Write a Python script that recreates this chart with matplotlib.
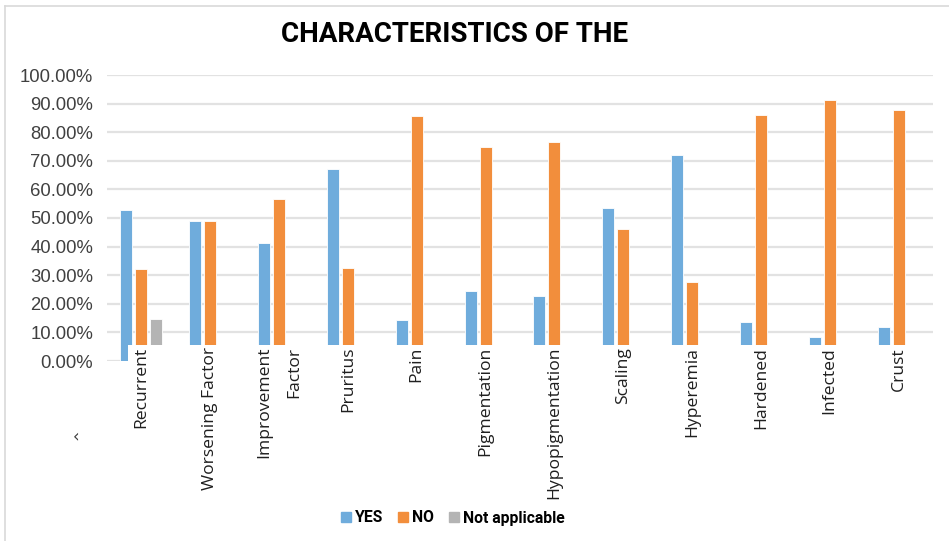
import matplotlib.pyplot as plt
import matplotlib.transforms as mtransforms
from matplotlib.patches import Rectangle
from matplotlib.lines import Line2D

categories = ["Recurrent", "Worsening Factor", "Improvement\nFactor", "Pruritus", "Pain",
              "Pigmentation", "Hypopigmentation", "Scaling", "Hyperemia", "Hardened",
              "Infected", "Crust"]
yes_vals = [52.7, 48.8, 41.3, 67.2, 14.2, 24.4, 22.6, 53.4, 72.1, 13.7, 8.4, 12.0]
no_vals = [32.1, 49.1, 56.8, 32.6, 85.7, 74.8, 76.7, 46.2, 27.6, 86.0, 91.3, 87.7]
na_vals = [14.7, 0, 0, 0, 0, 0, 0, 0, 0, 0, 0, 0]
series_names = ["YES", "NO", "Not applicable"]
colors = ["#6FACDC", "#F28E3C", "#B4B4B4"]
yticks = list(range(0, 101, 10))

fig = plt.figure(figsize=(9.49, 5.41), dpi=100)
ax = fig.add_axes([107 / 949, 1 - 361 / 541, 826 / 949, 286 / 541])

x = list(range(len(categories)))
step = 0.218
width = 0.175
for k, vals in enumerate([yes_vals, no_vals, na_vals]):
    pos = [i + (k - 1) * step for i in x]
    ax.bar(pos, vals, width=width, color=colors[k], edgecolor="#FFFFFF",
           linewidth=0.6, zorder=3, label=series_names[k])

ax.set_xlim(-0.5, len(categories) - 0.5)
ax.set_ylim(0, 100)
ax.set_yticks(yticks)
ax.set_yticklabels([f"{v:.2f}%" for v in yticks], family="Liberation Sans",
                   fontsize=13.3, color="#404040")
ax.set_xticks([])
ax.tick_params(axis="y", length=0, pad=10)
for s in ax.spines.values():
    s.set_visible(False)
ax.grid(axis="y", color="#E2E2E2", linewidth=1.6, zorder=0)
ax.set_axisbelow(True)

# white box that hides the bottom of the bars (as in the source image)
trans = mtransforms.blended_transform_factory(ax.transAxes, ax.transData)
ax.add_patch(Rectangle((0.0254, -40), 1.2, 45.6, transform=trans,
                       facecolor="white", edgecolor="none", zorder=4, clip_on=False))

lab_trans = mtransforms.blended_transform_factory(ax.transData, ax.transAxes)
for i, lab in enumerate(categories):
    ax.text(i, 0.049, lab, transform=lab_trans, rotation=90, ha="center", va="top",
            multialignment="right", linespacing=2.2, family="Open Sans",
            fontsize=12.6, color="#1F1F1F", zorder=5)

fig.text(455 / 949, 1 - 35 / 541, "CHARACTERISTICS OF THE", ha="center", va="center",
         family=["Roboto", "DejaVu Sans"], fontweight="bold",
         fontsize=20, color="#000000")
fig.text(76 / 949, 1 - 437 / 541, "\u2039", ha="center", va="center", fontsize=12,
         color="#404040")

handles = [Line2D([], [], marker="s", linestyle="none", markersize=7,
                  markerfacecolor=c, markeredgecolor=c) for c in colors]
leg = fig.legend(handles, series_names, loc="center", bbox_to_anchor=(452 / 949, 1 - 518 / 541),
                 ncol=3, frameon=False, handletextpad=0.15, columnspacing=0.9,
                 handlelength=0.8, prop={"family": "Roboto",
                                          "weight": "bold", "size": 11.3})

# outer frame lines (top and left)
fig.add_artist(Line2D([5 / 949, 1], [1 - 6 / 541, 1 - 6 / 541], transform=fig.transFigure,
                      color="#D9D9D9", linewidth=1.2))
fig.add_artist(Line2D([5 / 949, 5 / 949], [0, 1 - 6 / 541], transform=fig.transFigure,
                      color="#D9D9D9", linewidth=1.2))

fig.savefig("out.png", dpi=100, facecolor="white")
